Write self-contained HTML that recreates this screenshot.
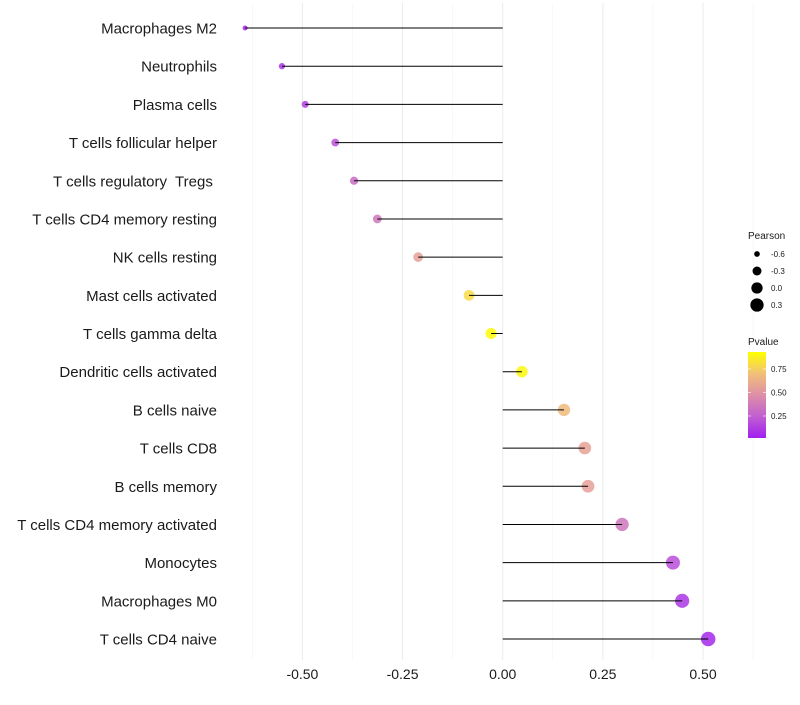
<!DOCTYPE html>
<html><head><meta charset="utf-8"><style>
body{margin:0;background:#fff;font-family:"Liberation Sans",sans-serif;}
</style></head><body>
<svg id="c" width="800" height="700" xmlns="http://www.w3.org/2000/svg">
<defs><linearGradient id="pg" x1="0" y1="1" x2="0" y2="0">
<stop offset="0" stop-color="#a020f0"/><stop offset="0.25" stop-color="#c15fd0"/><stop offset="0.5" stop-color="#de8fa8"/><stop offset="0.75" stop-color="#f2c078"/><stop offset="1" stop-color="#ffff00"/></linearGradient></defs>
</svg>
<script>
const categories=["Macrophages M2","Neutrophils","Plasma cells","T cells follicular helper","T cells regulatory  Tregs ","T cells CD4 memory resting","NK cells resting","Mast cells activated","T cells gamma delta","Dendritic cells activated","B cells naive","T cells CD8","B cells memory","T cells CD4 memory activated","Monocytes","Macrophages M0","T cells CD4 naive"];
const pearson=[-0.643,-0.551,-0.493,-0.418,-0.371,-0.313,-0.211,-0.084,-0.029,0.048,0.153,0.205,0.213,0.298,0.425,0.448,0.513];
const pvalue=[0.03,0.08,0.13,0.2,0.3,0.36,0.55,0.8,0.92,0.9,0.68,0.56,0.55,0.35,0.18,0.1,0.05];
const xTicks=[-0.5,-0.25,0,0.25,0.5];
const xTickLabels=["-0.50","-0.25","0.00","0.25","0.50"];
const sizeBreaks=[-0.6,-0.3,0.0,0.3];
const sizeLabels=["-0.6","-0.3","0.0","0.3"];
const colorBreaks=[0.25,0.5,0.75];
const colorLabels=["0.25","0.50","0.75"];

const svg=document.getElementById('c');const NS="http://www.w3.org/2000/svg";
function mk(t,a,p){const e=document.createElementNS(NS,t);for(const k in a)e.setAttribute(k,a[k]);(p||svg).appendChild(e);return e;}
const x=v=>502.7+v*400.6;
const y=i=>28+i*(639-28)/(categories.length-1);
const r=v=>Math.sqrt(Math.max(32+40*v,3));
const pMin=0.016,pMax=0.93;
const stops=[[0,[160,32,240]],[0.25,[193,95,208]],[0.5,[222,143,168]],[0.75,[242,192,120]],[1,[255,255,0]]];
function col(p){let t=(p-pMin)/(pMax-pMin);t=Math.max(0,Math.min(1,t));for(let i=1;i<stops.length;i++){if(t<=stops[i][0]){const a=stops[i-1],b=stops[i];const f=(t-a[0])/(b[0]-a[0]);const c=a[1].map((v,k)=>Math.round(v+(b[1][k]-v)*f));return `rgb(${c})`;}}return 'rgb(255,255,0)';}
for(let v=-0.625;v<=0.63;v+=0.125){const g=mk('line',{x1:x(v),x2:x(v),y1:3,y2:660,stroke:Math.abs((v*4)%1)<0.01?'#ebebeb':'#f3f3f3','stroke-width':Math.abs((v*4)%1)<0.01?1:0.6});
}
categories.forEach((c,i)=>{
 const t=mk('text',{x:217,y:y(i)+5.5,'text-anchor':'end','font-size':15,fill:'#1a1a1a','xml:space':'preserve'});t.style.whiteSpace='pre';t.textContent=c;
 
 const pt=mk('circle',{cx:x(pearson[i]),cy:y(i),r:r(pearson[i]),fill:col(pvalue[i]),'fill-opacity':0.85});
 
 const s=mk('line',{x1:x(0),x2:x(pearson[i]),y1:y(i),y2:y(i),stroke:'#000','stroke-width':1});
 
});
xTicks.forEach((v,i)=>{const t=mk('text',{x:x(v),y:679,'text-anchor':'middle','font-size':14,fill:'#1a1a1a'});t.textContent=xTickLabels[i];
 });
let t=mk('text',{x:748,y:239,'font-size':10,fill:'#1a1a1a'});t.textContent='Pearson';

sizeBreaks.forEach((v,i)=>{const cy=254+i*17;const c=mk('circle',{cx:757,cy:cy,r:r(v),fill:'#000'});
 
 const l=mk('text',{x:771,y:cy+3,'font-size':8,fill:'#1a1a1a'});l.textContent=sizeLabels[i];
 });
t=mk('text',{x:748,y:345,'font-size':10,fill:'#1a1a1a'});t.textContent='Pvalue';

const bar=mk('rect',{x:748,y:352,width:18,height:86,fill:'url(#pg)'});

colorBreaks.forEach((v,i)=>{const cy=438-(v-pMin)/(pMax-pMin)*86;
 mk('line',{x1:748,x2:751,y1:cy,y2:cy,stroke:'#fff','stroke-width':0.6});mk('line',{x1:763,x2:766,y1:cy,y2:cy,stroke:'#fff','stroke-width':0.6});
 const l=mk('text',{x:771,y:cy+3,'font-size':8,fill:'#1a1a1a'});l.textContent=colorLabels[i];
 });
</script>
</body></html>
